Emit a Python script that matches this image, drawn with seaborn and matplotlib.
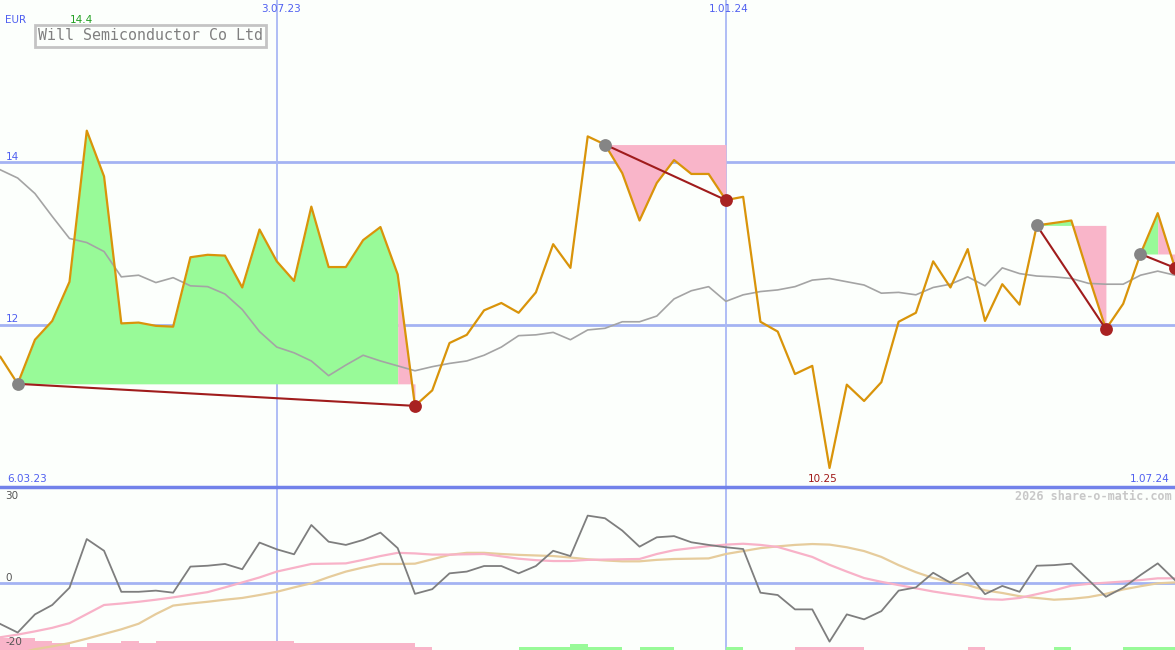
import numpy as np
import pandas as pd
import seaborn as sns
import matplotlib.pyplot as plt
from matplotlib.lines import Line2D

# weekly data, 13.03.23 .. 1.07.24
dates = pd.date_range("2023-03-13", periods=69, freq="7D")

price = [11.61, 11.28, 11.82, 12.05, 12.53, 14.38, 13.82, 12.02, 12.03, 11.99,
         11.98, 12.83, 12.86, 12.85, 12.46, 13.17, 12.78, 12.54, 13.45, 12.71,
         12.71, 13.04, 13.20, 12.62, 11.01, 11.20, 11.78, 11.88, 12.18, 12.27,
         12.15, 12.40, 12.99, 12.70, 14.31, 14.21, 13.86, 13.28, 13.74, 14.02,
         13.85, 13.85, 13.53, 13.57, 12.04, 11.92, 11.40, 11.50, 10.25, 11.27,
         11.07, 11.30, 12.04, 12.15, 12.78, 12.46, 12.93, 12.05, 12.50, 12.25,
         13.22, 13.25, 13.28, 12.60, 11.95, 12.26, 12.87, 13.37, 12.70]

avg = [13.90, 13.80, 13.61, 13.33, 13.06, 13.01, 12.90, 12.59, 12.61, 12.52,
       12.58, 12.48, 12.47, 12.38, 12.19, 11.92, 11.73, 11.66, 11.56, 11.38,
       11.51, 11.63, 11.56, 11.50, 11.44, 11.49, 11.53, 11.56, 11.63, 11.73,
       11.87, 11.88, 11.91, 11.82, 11.94, 11.96, 12.04, 12.04, 12.11, 12.32,
       12.42, 12.47, 12.29, 12.37, 12.41, 12.43, 12.47, 12.55, 12.57, 12.53,
       12.49, 12.39, 12.40, 12.37, 12.46, 12.50, 12.59, 12.48, 12.70, 12.63,
       12.60, 12.59, 12.57, 12.51, 12.50, 12.50, 12.61, 12.66, 12.61]

momentum = [-13.9, -16.8, -10.6, -7.4, -1.5, 15.1, 11.1, -2.9, -2.9, -2.5,
            -3.2, 5.7, 6.0, 6.6, 4.8, 13.9, 11.6, 9.9, 19.9, 14.2,
            13.1, 14.8, 17.3, 12.0, -3.6, -2.0, 3.4, 4.0, 5.9, 5.9,
            3.4, 5.9, 11.1, 9.3, 23.1, 22.2, 18.0, 12.5, 15.7, 16.1,
            14.0, 13.1, 12.3, 11.7, -3.2, -4.0, -8.9, -8.9, -19.9, -10.6,
            -12.3, -9.5, -2.5, -1.4, 3.6, 0.2, 3.6, -3.7, -0.9, -2.9,
            6.0, 6.2, 6.7, 1.1, -4.6, -1.5, 2.8, 6.8, 1.1]

fast = [-18.4, -17.5, -16.4, -15.2, -13.6, -10.5, -7.4, -6.9, -6.3, -5.6,
        -4.8, -3.9, -3.0, -1.4, 0.3, 2.0, 4.0, 5.3, 6.6, 6.7,
        6.8, 8.0, 9.3, 10.4, 10.2, 9.8, 9.8, 9.9, 10.0, 9.2,
        8.4, 7.9, 7.6, 7.6, 8.0, 8.1, 8.2, 8.3, 10.0, 11.3,
        12.0, 12.7, 13.2, 13.5, 13.1, 12.4, 10.7, 9.0, 6.3, 4.0,
        1.8, 0.5, -0.6, -1.7, -2.8, -3.7, -4.5, -5.4, -5.6, -5.0,
        -3.7, -2.4, -0.8, -0.2, 0.2, 0.6, 1.1, 1.7, 1.7]

slow = [-26.0, -24.0, -22.5, -21.5, -20.4, -18.9, -17.3, -15.7, -13.8, -10.5,
        -7.6, -6.9, -6.3, -5.6, -5.0, -4.0, -2.9, -1.4, 0.0, 2.1,
        4.0, 5.4, 6.6, 6.6, 6.7, 8.2, 9.7, 10.4, 10.4, 10.0,
        9.7, 9.5, 9.3, 8.8, 8.2, 7.8, 7.5, 7.5, 8.0, 8.3,
        8.4, 8.5, 10.0, 11.0, 12.0, 12.6, 13.1, 13.4, 13.2, 12.3,
        11.0, 9.0, 6.2, 3.8, 1.8, 0.4, -0.6, -2.4, -3.3, -4.4,
        -5.0, -5.6, -5.3, -4.7, -3.6, -2.1, -1.0, 0.0, 0.3]

strength = [-4.1, -4.1, -3.1, -2.4, -1.0, -2.4, -2.4, -3.1, -2.4, -3.1,
            -3.1, -3.1, -3.1, -3.1, -3.1, -3.1, -3.1, -2.4, -2.4, -2.4,
            -2.4, -2.4, -2.4, -2.4, -1.0, 0, 0, 0, 0, 0,
            1.0, 1.0, 1.0, 2.0, 1.0, 1.0, 0, 1.0, 1.0, 0,
            0, 0, 1.0, 0, 0, 0, -1.0, -1.0, -1.0, -1.0,
            0, 0, 0, 0, 0, 0, -1.0, 0, 0, 0,
            0, 1.0, 0, 0, 0, 1.0, 1.0, 1.0, 0]

# trends: (start index, end index)
trends = [(1, 24), (35, 42), (60, 64), (66, 68)]

grid_dates = [pd.Timestamp("2023-07-03"), pd.Timestamp("2024-01-01")]

BG = "#fcfffc"
BLUE_TXT = "#4f5ff0"
GRID = "#a4b3f3"
GREEN = "#98fa98"
PINK = "#f9b5c9"

fig = plt.figure(figsize=(11.75, 6.5), dpi=100, facecolor=BG)
ax = fig.add_axes([0, 160 / 650, 1, 490 / 650])
ax2 = fig.add_axes([0, 0, 1, 160 / 650])
for a in (ax, ax2):
    a.set_axis_off()
    a.set_xlim(dates[0] - pd.Timedelta(hours=4), dates[-1])

ax.set_ylim(9.98, 15.98)
ax2.set_ylim(-22.76, 31.84)

# grid
for lvl in (12, 14):
    ax.axhline(lvl, color=GRID, lw=2, zorder=0)
ax2.axhline(0, color=GRID, lw=2, zorder=0)
for d in grid_dates:
    ax.axvline(d, color="#aab8f5", lw=1.3, zorder=0)
    ax2.axvline(d, color="#aab8f5", lw=1.3, zorder=0)
fig.add_artist(Line2D([0, 1], [163 / 650, 163 / 650], color="#7282ea", lw=2.5))

# trend fills
p = np.array(price)
for s, e in trends:
    level = p[s]
    cols = ["g" if p[i + 1] >= level else "r" for i in range(s, e)]
    a0 = s
    for k in range(1, len(cols) + 1):
        if k == len(cols) or cols[k] != cols[k - 1]:
            a1 = s + k
            c = GREEN if cols[k - 1] == "g" else PINK
            ax.fill_between(dates[a0:a1 + 1], p[a0:a1 + 1], level,
                            color=c, lw=0, zorder=1)
            a0 = a1

# lines
sns.lineplot(x=dates, y=avg, ax=ax, color="#a4a4a4", lw=1.2, zorder=2)
sns.lineplot(x=dates, y=price, ax=ax, color="#d9940a", lw=1.6, zorder=3)
for s, e in trends:
    ax.plot([dates[s], dates[e]], [p[s], p[e]], color="#a01c1c", lw=1.5, zorder=4)
    ax.scatter([dates[s]], [p[s]], s=85, color="#858585", zorder=5, lw=0)
    ax.scatter([dates[e]], [p[e]], s=85, color="#a82222", zorder=5, lw=0)

# lower panel
st = np.array(strength)
bar_cols = [GREEN if v > 0 else PINK for v in st]
ax2.bar(dates, np.abs(st), width=pd.Timedelta(days=7), align="edge",
        bottom=-22.76, color=bar_cols, lw=0, zorder=1)
sns.lineplot(x=dates, y=slow, ax=ax2, color="#e6cc9c", lw=1.6, zorder=2)
sns.lineplot(x=dates, y=fast, ax=ax2, color="#f8b2c8", lw=1.6, zorder=3)
sns.lineplot(x=dates, y=momentum, ax=ax2, color="#7e7e7e", lw=1.3, zorder=4)


def fdate(d):
    return f"{d.day}.{d:%m.%y}"


def txt(x, y, s, **kw):
    kw.setdefault("fontsize", 7.5)
    kw.setdefault("va", "center")
    fig.text(x / 1175, 1 - y / 650, s, **kw)


txt(5, 20, "EUR", color=BLUE_TXT)
txt(81, 20, f"{p.max():.1f}", color="#22a022", ha="center")
txt(38, 36, "Will Semiconductor Co Ltd", family="DejaVu Sans Mono",
    fontsize=10.8, color="#808080",
    bbox=dict(boxstyle="square,pad=0.22", fc=BG, ec="#c4c4c4", lw=2))
txt(281, 9, fdate(grid_dates[0]), color=BLUE_TXT, ha="center")
txt(729, 9, fdate(grid_dates[1]), color=BLUE_TXT, ha="center")
txt(6, 157, "14", color=BLUE_TXT)
txt(6, 319, "12", color=BLUE_TXT)
txt(7, 479, "6.03.23", color=BLUE_TXT)
txt(1170, 479, fdate(dates[-1]), color=BLUE_TXT, ha="right")
txt(823, 479, f"{p.min():.2f}", color="#a01818", ha="center")
txt(1172, 496, "2026 share-o-matic.com", family="DejaVu Sans Mono",
    fontsize=8.5, fontweight="bold", color="#c8c8c8", ha="right")
txt(5, 496, "30", color="#555555")
txt(5, 578, "0", color="#555555")
txt(5, 642, "-20", color="#555555")

fig.savefig("out.png", dpi=100, facecolor=BG)
